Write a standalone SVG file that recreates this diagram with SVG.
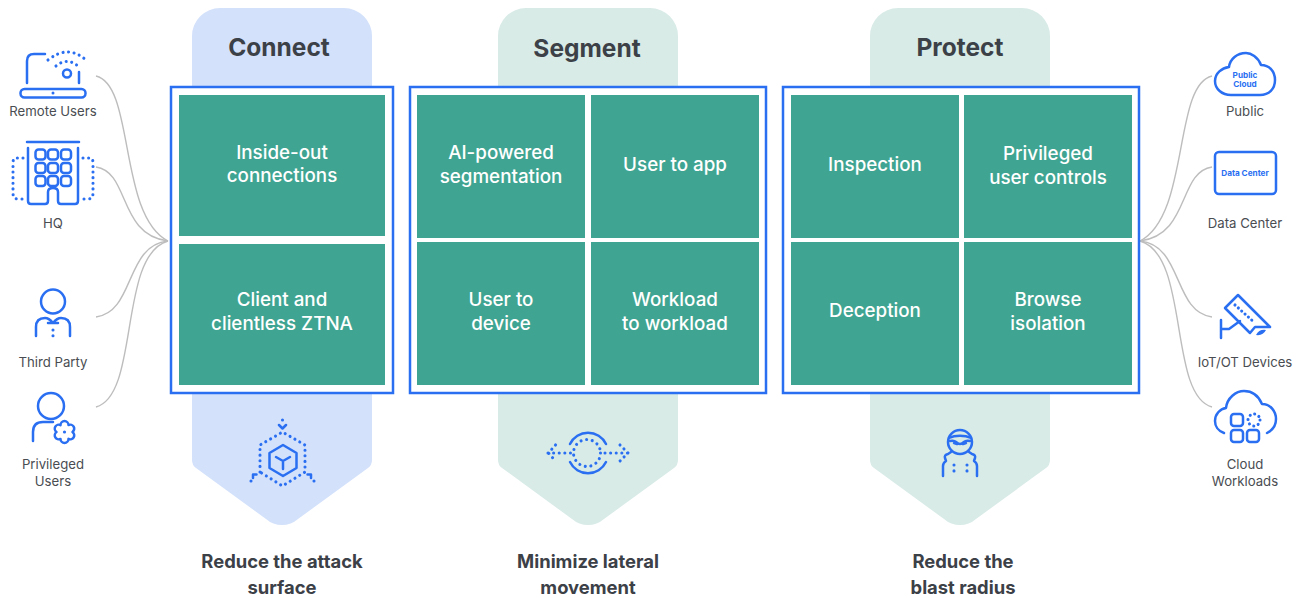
<svg xmlns="http://www.w3.org/2000/svg" width="1301" height="598" viewBox="0 0 1301 598">
<style>
text{font-family:"Inter","Noto Sans","Liberation Sans",sans-serif}
.bg{fill:#fff}
.blue{fill:#d3e1fb}.mint{fill:#d8ebe7}
.frame{fill:#fff;stroke:#2a6ff2;stroke-width:2.5}
.cell{fill:#3fa592}
.ct{fill:#fff;font-size:18.8px;font-weight:500;text-anchor:middle}
.head{fill:#3c4047;font-size:24.5px;font-weight:700;text-anchor:middle}
.foot{fill:#3c4047;font-size:18.4px;font-weight:700;text-anchor:middle}
.lab{fill:#4a4d52;font-size:13.2px;text-anchor:middle}
.ic{fill:none;stroke:#2a6ff2;stroke-width:2.5;stroke-linecap:round;stroke-linejoin:round}
.dot{fill:none;stroke:#2a6ff2;stroke-width:3.1;stroke-linecap:round;stroke-dasharray:0.01 5.6}
.it{fill:#2a6ff2;font-size:8.2px;font-weight:700;text-anchor:middle}
.con{fill:none;stroke:#bdbdbd;stroke-width:1.4}
</style>
<rect class="bg" width="1301" height="598"/>
<g id="connectors">
<path class="con" d="M96 76C135 85 118 215 168 241"/>
<path class="con" d="M96 167C130 172 118 235 168 241"/>
<path class="con" d="M96 317C135 312 125 245 168 241"/>
<path class="con" d="M96 407C140 395 118 255 168 241"/>
<path class="con" d="M1212 76C1173 85 1190 215 1140 241"/>
<path class="con" d="M1212 167C1178 172 1190 235 1140 241"/>
<path class="con" d="M1212 317C1173 312 1183 245 1140 241"/>
<path class="con" d="M1212 407C1168 395 1190 255 1140 241"/>
</g>
<g id="connect">
<path class="blue" d="M192 36a28 28 0 0 1 28-28h124a28 28 0 0 1 28 28V460q0 5-4 8L298 519a24 24 0 0 1-32 0L196 468q-4-3-4-8Z"/>
<text class="head" x="279" y="56">Connect</text>
<rect class="frame" x="171" y="87" width="222" height="306"/>
<rect class="cell" x="179" y="95" width="206" height="141"/>
<rect class="cell" x="179" y="244" width="206" height="141"/>
<text class="ct" x="282" y="159">Inside-out</text><text class="ct" x="282" y="182">connections</text>
<text class="ct" x="282" y="306">Client and</text><text class="ct" x="282" y="330">clientless ZTNA</text>
<g>
<path class="ic" d="M283 445l13.500 8v15l-13.500 8-13.500-8v-15zM283 461l-7-4M283 461l7-4M283 461v8"/>
<path class="dot" d="M260 472v-27l22.500-13 22.500 13v27l-22.500 14z"/>
<path class="ic" d="M279 425l3.500 3.500 3.500-3.500M253 478v-3.500h3.500M311 474.500h-3.500M311 474.500v3.500"/>
<path class="dot" d="M282.500 420v1M251 481v1M314 481v1"/>
</g>
<text class="foot" x="282" y="568">Reduce the attack</text><text class="foot" x="282" y="594">surface</text>
</g>
<g id="segment">
<path class="mint" d="M498 36a28 28 0 0 1 28-28h124a28 28 0 0 1 28 28V460q0 5-4 8L604 519a24 24 0 0 1-32 0L502 468q-4-3-4-8Z"/>
<text class="head" x="587" y="57">Segment</text>
<rect class="frame" x="410" y="87" width="356" height="306"/>
<rect class="cell" x="417" y="95" width="168" height="143"/>
<rect class="cell" x="591" y="95" width="168" height="143"/>
<rect class="cell" x="417" y="242" width="168" height="143"/>
<rect class="cell" x="591" y="242" width="168" height="143"/>
<text class="ct" x="501" y="159">AI-powered</text><text class="ct" x="501" y="183">segmentation</text>
<text class="ct" x="675" y="171">User to app</text>
<text class="ct" x="501" y="306">User to</text><text class="ct" x="501" y="330">device</text>
<text class="ct" x="675" y="306">Workload</text><text class="ct" x="675" y="330">to workload</text>
<g>
<path class="ic" d="M570 444a20 20 0 0 1 36 0M570 462a20 20 0 0 0 36 0"/>
<circle class="dot" cx="587" cy="453" r="13.500" style="stroke-dasharray:0.01 5.7"/>
<path class="dot" d="M548 453h23M605 453h24M555.500 445l-7 8 7 8M620 445l8 8-8 8"/>
</g>
<text class="foot" x="588" y="568">Minimize lateral</text><text class="foot" x="588" y="594">movement</text>
</g>
<g id="protect">
<path class="mint" d="M870 36a28 28 0 0 1 28-28h124a28 28 0 0 1 28 28V460q0 5-4 8L976 519a24 24 0 0 1-32 0L874 468q-4-3-4-8Z"/>
<text class="head" x="960" y="56">Protect</text>
<rect class="frame" x="783" y="87" width="356" height="306"/>
<rect class="cell" x="791" y="95" width="168" height="143"/>
<rect class="cell" x="964" y="95" width="168" height="143"/>
<rect class="cell" x="791" y="242" width="168" height="143"/>
<rect class="cell" x="964" y="242" width="168" height="143"/>
<text class="ct" x="875" y="171">Inspection</text>
<text class="ct" x="1048" y="160">Privileged</text><text class="ct" x="1048" y="184">user controls</text>
<text class="ct" x="875" y="317">Deception</text>
<text class="ct" x="1048" y="306">Browse</text><text class="ct" x="1048" y="330">isolation</text>
<g>
<circle class="ic" cx="960" cy="442" r="12"/>
<path class="ic" d="M949 438c6-3 16-3 22 0M950 441q4-1 6 1 2 2 4 2t4-2q2-2 6-1M954 443l3 1M966 443l-3 1"/>
<path class="ic" d="M943 476v-10q0-3 3-5l-1-3q-1-3 3-4l3-2M977 476v-10q0-3-3-5l1-3q1-3-3-4l-3-2"/>
<path class="dot" d="M954 465v7M967 465v7" style="stroke-dasharray:0.01 5.900"/>
</g>
<text class="foot" x="963" y="568">Reduce the</text><text class="foot" x="963" y="594">blast radius</text>
</g>
<g id="remote-users">
<path class="ic" d="M27 83V61q0-7 7-7h11M79 72v11"/>
<rect class="ic" x="20.500" y="89" width="65" height="8.500" rx="4"/>
<circle cx="53" cy="93" r="1.500" fill="#2a6ff2"/>
<circle class="ic" cx="67" cy="73.500" r="4"/>
<path class="dot" d="M48 60q20-16 38 0M56 66q11-9 22 0"/>
<text class="lab" x="53" y="116">Remote Users</text>
</g>
<g id="hq">
<path class="ic" d="M27 142H79M28 148V201q0 3 3 3h14q3 0 3-3v-9q0-4 5-4t5 4v9q0 3 3 3h14q3 0 3-3V148"/>
<g class="ic">
<rect x="35.500" y="149.500" width="10" height="10" rx="3"/><rect x="48" y="149.500" width="10" height="10" rx="3"/><rect x="61" y="149.500" width="10" height="10" rx="3"/>
<rect x="35.500" y="163" width="10" height="10" rx="3"/><rect x="48" y="163" width="10" height="10" rx="3"/><rect x="61" y="163" width="10" height="10" rx="3"/>
<rect x="35.500" y="176" width="10" height="10" rx="3"/><rect x="48" y="176" width="10" height="10" rx="3"/><rect x="61" y="176" width="10" height="10" rx="3"/>
</g>
<path class="dot" d="M23 158h-7q-3 0-3 5v30q0 6 5 6h5M83 158h7q3 0 3 5v30q0 6-5 6h-5"/>
<text class="lab" x="53" y="228">HQ</text>
</g>
<g id="third-party">
<circle class="ic" cx="53" cy="301.500" r="12"/>
<path class="ic" d="M36 336V327q0-9 9-9q4 0 8 5q4-5 8-5q9 0 9 9v9M48 323h10"/>
<path class="dot" d="M53 330v7" style="stroke-dasharray:0.01 5.800"/>
<text class="lab" x="53" y="367">Third Party</text>
</g>
<g id="privileged-users">
<circle class="ic" cx="51" cy="406" r="13"/>
<path class="ic" d="M33 441V432q0-10 10-10h10"/>
<path class="ic" d="M72.500 432A4 4 0 0 1 68.500 438.900A4 4 0 0 1 60.500 438.900A4 4 0 0 1 56.500 432A4 4 0 0 1 60.500 425.100A4 4 0 0 1 68.500 425.100A4 4 0 0 1 72.500 432Z"/>
<circle cx="64.500" cy="432" r="1.600" fill="#2a6ff2"/>
<text class="lab" x="53" y="469">Privileged</text><text class="lab" x="53" y="486">Users</text>
</g>
<g id="public">
<path class="ic" d="M1231 95h29c9 0 15-6 15-15 0-9-6-15-14-15-3-8-10-12-15-12-9 0-16 6-17 14-7 1-14 6-14 14 0 8 7 14 16 14z"/>
<text class="it" x="1245" y="78">Public</text><text class="it" x="1245" y="87">Cloud</text>
<text class="lab" x="1245" y="116">Public</text>
</g>
<g id="data-center">
<rect class="ic" x="1215" y="152" width="61" height="42" rx="4"/>
<text class="it" x="1245" y="176">Data Center</text>
<text class="lab" x="1245" y="228">Data Center</text>
</g>
<g id="iot-devices">
<path class="ic" d="M1225 308l13-13 32 32h-15l-5 6z"/>
<path class="dot" d="M1235 305l20 18" style="stroke-dasharray:0.01 4.500"/>
<path class="ic" d="M1221 320v18M1221 329h8l11-8"/>
<path fill="#2a6ff2" d="M1256 335q3-6 10-5q-3 6-10 5z"/>
<text class="lab" x="1245" y="367">IoT/OT Devices</text>
</g>
<g id="cloud-workloads">
<path class="ic" d="M1224 433c-6-2-9-7-9-12 0-7 5-12 11-13 1-10 10-17 18-17 9 0 15 6 18 13 9 0 14 8 14 15 0 6-3 11-9 14"/>
<rect class="ic" x="1231" y="414" width="12" height="12" rx="3"/>
<rect class="ic" x="1231" y="430" width="12" height="12" rx="3"/>
<rect class="ic" x="1247" y="430" width="12" height="12" rx="3"/>
<circle class="dot" cx="1254" cy="420" r="6" style="stroke-dasharray:0.01 4.700"/>
<text class="lab" x="1245" y="469">Cloud</text><text class="lab" x="1245" y="486">Workloads</text>
</g>
</svg>
